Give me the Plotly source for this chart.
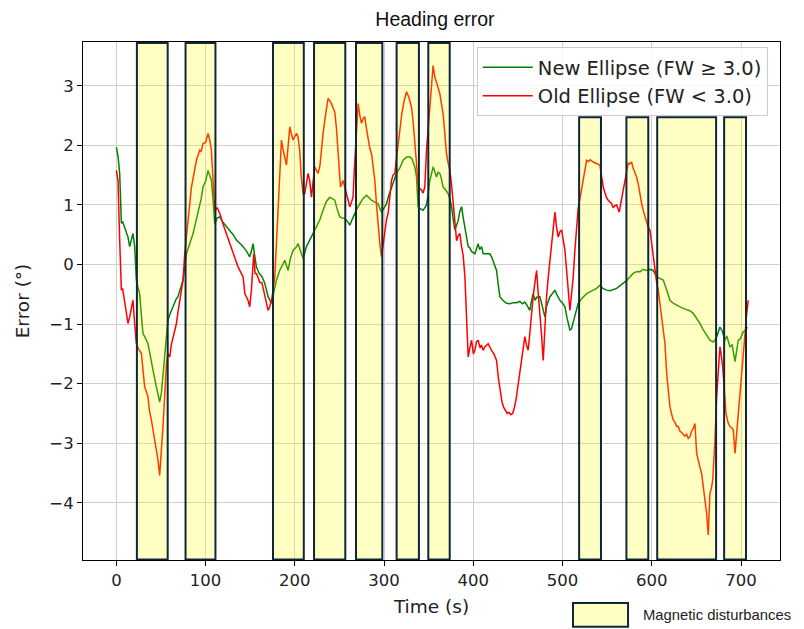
import plotly.graph_objects as go

# ---- data ----
t_new = [0, 2, 3.7, 5.6, 7, 9.3, 11, 13, 14.9, 16.5, 18.6, 20.5, 22.4, 24.2, 26.1, 28, 29.8, 32, 35.4, 37,
         39.2, 42, 44.8, 46.5, 48.5, 50.4, 52, 54.1, 56, 57.8, 59.5, 61.7, 63.5, 65.4, 67, 69, 72, 74.7, 78.5, 82,
         85.9, 89, 93.4, 95, 97.1, 100, 102.7, 104.5, 106.5, 108.5, 110.2, 113, 115.8, 119, 123.3, 128, 131, 134.5, 138, 142,
         146, 149.4, 151, 153.1, 155, 156.9, 160, 163, 166, 168.2, 170, 173.8, 176, 179.4, 183, 186, 188.7, 192.4, 195, 198,
         201, 203.6, 206, 209.2, 213, 216.7, 220, 224.2, 228, 231.6, 235, 239.1, 242, 244.7, 247, 250.3, 253, 256, 259, 261.6,
         264, 267.2, 270, 272.8, 276, 280.3, 283, 285.9, 289, 293.3, 295, 297.1, 300, 302.7, 305, 308.3, 311, 313.9, 317.6, 321.3,
         325, 328.8, 331, 334.4, 336.3, 338.1, 340, 343.7, 345.5, 347.5, 349.5, 351.2, 354.9, 356.5, 358.7, 360.5, 362.4, 364, 366.1, 369,
         371.7, 373.7, 375.6, 377.5, 379.3, 381, 383, 385, 386.8, 388.5, 390.5, 392.4, 394.2, 396, 398, 401.7, 405.4, 407, 409.2, 411,
         414.8, 418.5, 420.4, 423, 426, 428, 429.7, 433, 437.2, 441, 445, 448.4, 452, 455, 457.7, 460, 463.3, 465, 467, 469,
         471, 474.5, 477, 480.2, 482, 485.8, 488, 491.4, 494, 497, 500, 502.6, 505, 508.2, 510, 511.9, 514, 517.5, 521, 526.9,
         530, 534.3, 538, 541.8, 545, 549.3, 553, 556, 560.5, 564, 567.9, 571, 575.4, 579, 582.9, 587, 590, 594.2, 598, 601.6,
         605.4, 609, 612.8, 616, 620.3, 624, 627, 631.5, 636, 640, 643, 646.4, 650, 653.9, 657, 661, 665.1, 668.8, 670.7, 673,
         676.3, 679, 681.9, 684, 687.5, 690, 693.2, 695, 696.9, 699, 702.5, 705, 707]
v_new = [1.97, 1.80, 1.53, 0.69, 0.72, 0.63, 0.55, 0.46, 0.30, 0.40, 0.52, 0.30, -0.26, -0.38, -0.49, -0.85, -1.16, -1.22, -1.33, -1.45,
         -1.66, -1.85, -2.05, -2.15, -2.31, -2.16, -1.90, -1.55, -1.20, -0.93, -0.85, -0.77, -0.70, -0.63, -0.58, -0.54, -0.40, -0.26, 0.18, 0.35,
         0.52, 0.72, 0.97, 1.10, 1.30, 1.40, 1.58, 1.50, 1.41, 1.05, 0.69, 0.78, 0.80, 0.72, 0.63, 0.55, 0.50, 0.41, 0.36, 0.30,
         0.22, 0.13, 0.20, 0.35, 0.15, -0.04, -0.15, -0.20, -0.30, -0.45, -0.54, -0.65, -0.50, -0.26, -0.10, 0.0, 0.07, -0.10, 0.10, 0.24,
         0.28, 0.35, 0.25, 0.10, 0.30, 0.41, 0.50, 0.63, 0.75, 0.91, 1.05, 1.13, 1.10, 1.08, 0.95, 0.80, 0.78, 0.77, 0.72, 0.66,
         0.75, 0.86, 0.95, 1.02, 1.10, 1.16, 1.12, 1.08, 1.05, 1.02, 0.95, 0.88, 0.95, 1.02, 1.15, 1.30, 1.42, 1.53, 1.62, 1.75,
         1.80, 1.81, 1.78, 1.64, 1.47, 0.97, 0.94, 0.91, 0.95, 1.0, 1.2, 1.41, 1.64, 1.55, 1.47, 1.55, 1.53, 1.45, 1.30, 1.25,
         1.19, 1.10, 0.97, 0.75, 0.58, 0.65, 0.74, 0.90, 0.97, 0.80, 0.63, 0.46, 0.30, 0.28, 0.22, 0.18, 0.35, 0.25, 0.30, 0.18,
         0.18, 0.18, 0.13, 0.02, -0.10, -0.35, -0.54, -0.60, -0.65, -0.66, -0.64, -0.64, -0.62, -0.66, -0.63, -0.68, -0.77, -0.62, -0.49, -0.60,
         -0.55, -0.54, -0.70, -0.88, -0.70, -0.54, -0.50, -0.43, -0.52, -0.60, -0.65, -0.71, -0.90, -1.10, -1.08, -0.99, -0.85, -0.65, -0.58, -0.49,
         -0.46, -0.43, -0.40, -0.35, -0.40, -0.43, -0.44, -0.42, -0.40, -0.36, -0.32, -0.28, -0.21, -0.15, -0.12, -0.12, -0.08, -0.10, -0.08, -0.10,
         -0.21, -0.24, -0.26, -0.40, -0.60, -0.65, -0.68, -0.71, -0.74, -0.77, -0.78, -0.82, -0.90, -0.99, -1.08, -1.18, -1.27, -1.30, -1.27, -1.20,
         -1.05, -1.12, -1.27, -1.20, -1.38, -1.35, -1.63, -1.45, -1.27, -1.25, -1.13, -1.10, -1.05]

t_old = [0, 1.8, 3.7, 4.5, 5.6, 7, 9.3, 11, 13, 14.9, 16.5, 18.6, 20.5, 22.4, 25, 28, 30, 31.7, 35.4, 37,
         39.2, 42.9, 44.5, 46.6, 48.5, 50.4, 52.2, 54.1, 56.1, 57.8, 59.8, 61.5, 63.5, 65.5, 67.3, 69, 71, 73, 74.7, 76.6,
         80.3, 82, 84.1, 86, 89.7, 93.4, 95, 97.1, 100, 102.7, 104.5, 106.5, 108.5, 110.2, 113, 115.8, 119, 123.3, 127, 130.7,
         133, 136.3, 139, 142, 144, 147.5, 149.4, 151.3, 153.9, 155.5, 157, 160.7, 163, 166.3, 168, 170, 172, 173.8, 175.5, 177.5,
         179.5, 181.2, 183, 185, 186.5, 188.7, 190.6, 192.5, 194.3, 196, 198, 200, 201.8, 203.5, 205.5, 207, 209.2, 211.1, 213, 214.8,
         216.7, 218.6, 220.5, 222.3, 224.2, 226, 228, 229.8, 231.6, 233.5, 235.5, 237.2, 239, 241, 243, 244.7, 246.5, 248.4, 250, 251.1,
         254, 256, 257.8, 259.5, 261.6, 263.5, 265.2, 267, 269, 270.9, 272.8, 274.7, 276.5, 278.4, 280, 282.1, 284, 285.9, 287.8, 289.6,
         291.5, 293.3, 295.2, 297.1, 299, 300.8, 302.6, 304.5, 306.4, 308.3, 310, 312, 314, 315.8, 317.6, 320, 322.5, 325.1, 327.9, 330.7,
         332.5, 334.4, 336.3, 338.1, 340, 341.9, 343.7, 345.6, 347.5, 349.3, 351.2, 353, 354.9, 356.8, 358.7, 360.5, 362.4, 364.2, 366.1, 368,
         369.9, 371.8, 373.7, 375.5, 377.4, 379.3, 381.2, 383, 384.9, 386.8, 388.6, 390.5, 392.4, 394.2, 396, 398, 400, 401.7, 403.5, 405.4,
         407.5, 409, 411, 413, 416.6, 418.5, 420.4, 423, 426, 428, 430, 432, 434, 436, 438, 440, 442, 444, 446, 448,
         450, 452, 454, 456, 457.7, 459.5, 461.4, 463, 465, 467, 469, 470.9, 472.5, 474.5, 476.5, 478.3, 480, 482, 484, 486,
         487.7, 489.5, 491.4, 493, 495.1, 497, 498.9, 500.8, 502.6, 504.5, 506.3, 508.2, 510, 511.9, 513.8, 515.7, 517.5, 519.4, 521.3, 523,
         524.9, 526.9, 529, 531, 534.3, 537, 539, 541.8, 543.5, 545.5, 547.5, 549.3, 551.1, 553, 555, 556.8, 558.6, 560.5, 562, 563.5,
         565.5, 567.9, 570, 571.8, 573.5, 575.4, 577.3, 579.2, 581, 582.9, 584.8, 586.7, 588.6, 590.5, 592.4, 594.2, 596, 597.9, 599.8, 601.7,
         603.5, 605.4, 607.2, 609.1, 611, 612.8, 614.7, 616.6, 618.5, 620.3, 622, 624, 626, 627.8, 629.6, 631.5, 633.3, 635.2, 637, 639,
         640.8, 642.7, 644.5, 646.4, 648.3, 650.2, 652, 653.9, 655.8, 657.7, 659.5, 661.4, 663.2, 665.1, 666.8, 668.2, 669.5, 670.7, 672.6, 674.5,
         676.3, 678, 679.4, 681.2, 683.1, 685.3, 687.5, 689.4, 691.3, 693.2, 695.7, 697.2, 698.8, 700.6, 702.5, 704.4, 706.3, 708]
v_old = [1.58, 1.41, 0.41, -0.10, -0.43, -0.40, -0.60, -0.80, -0.99, -0.88, -0.75, -0.60, -0.99, -1.33, -1.42, -1.49, -1.80, -2.05, -2.22, -2.45,
         -2.61, -2.95, -3.10, -3.28, -3.54, -3.17, -2.72, -2.22, -1.66, -1.50, -1.55, -1.35, -1.21, -1.10, -0.99, -0.80, -0.60, -0.40, -0.26, 0.18,
         0.80, 1.05, 1.30, 1.45, 1.75, 1.92, 1.90, 2.03, 2.05, 2.20, 2.10, 1.92, 1.40, 0.91, 0.95, 0.86, 0.70, 0.52, 0.35, 0.18,
         0.10, -0.04, -0.12, -0.21, -0.49, -0.60, -0.71, -0.43, 0.18, -0.15, -0.15, -0.30, -0.30, -0.50, -0.60, -0.77, -0.70, -0.60, -0.45, -0.20,
         0.40, 0.97, 1.60, 2.09, 1.95, 1.81, 1.67, 2.00, 2.31, 2.20, 2.09, 2.15, 2.20, 2.15, 1.90, 1.50, 1.19, 1.19, 1.35, 1.53,
         1.40, 1.13, 1.40, 1.64, 1.58, 1.53, 1.65, 1.95, 2.20, 2.42, 2.65, 2.79, 2.75, 2.70, 2.62, 2.56, 2.30, 1.92, 1.55, 1.30,
         1.41, 1.30, 1.19, 1.10, 0.97, 1.05, 1.13, 1.70, 2.35, 2.70, 2.50, 2.37, 2.45, 2.48, 2.30, 2.09, 1.95, 1.86, 1.65, 1.41,
         1.00, 0.63, 0.35, 0.13, 0.35, 0.63, 0.75, 0.86, 1.15, 1.41, 1.50, 1.53, 1.80, 2.05, 2.31, 2.55, 2.75, 2.90, 2.80, 2.64,
         2.40, 2.09, 1.70, 1.30, 1.28, 1.25, 1.20, 1.30, 1.92, 2.30, 2.64, 3.00, 3.34, 3.15, 3.04, 2.95, 2.87, 2.70, 2.53, 2.20,
         1.86, 1.70, 1.58, 1.35, 1.00, 0.70, 0.40, 0.48, 0.52, 0.30, 0.15, -0.20, -0.88, -1.55, -1.40, -1.27, -1.50, -1.44, -1.30, -1.27,
         -1.40, -1.35, -1.44, -1.38, -1.33, -1.40, -1.44, -1.50, -1.61, -1.90, -2.15, -2.30, -2.40, -2.45, -2.50, -2.48, -2.52, -2.50, -2.40, -2.25,
         -2.05, -1.80, -1.65, -1.45, -1.21, -1.35, -1.44, -1.20, -0.85, -0.54, -0.30, -0.10, -0.45, -0.77, -1.20, -1.61, -1.10, -0.54, -0.20, 0.10,
         0.35, 0.60, 0.88, 0.65, 0.46, 0.55, 0.58, 0.40, 0.24, -0.10, -0.50, -0.77, -0.50, -0.21, 0.25, 0.69, 0.95, 1.10, 1.25, 1.45,
         1.60, 1.75, 1.73, 1.76, 1.72, 1.70, 1.68, 1.67, 1.50, 1.30, 1.20, 1.12, 1.08, 1.05, 1.02, 0.95, 0.99, 1.00, 0.95, 0.88,
         1.05, 1.25, 1.40, 1.55, 1.70, 1.69, 1.72, 1.61, 1.55, 1.47, 1.35, 1.15, 1.02, 0.90, 0.80, 0.69, 0.62, 0.58, 0.35, 0.10,
         -0.10, -0.30, -0.43, -0.65, -0.85, -1.05, -1.33, -1.83, -2.15, -2.39, -2.50, -2.61, -2.65, -2.72, -2.72, -2.80, -2.82, -2.86, -2.88, -2.85,
         -2.92, -2.89, -2.80, -2.75, -2.67, -3.17, -3.30, -3.40, -3.51, -3.70, -3.95, -4.18, -4.54, -3.84, -3.75, -3.62, -3.30, -2.95, -2.22, -1.70,
         -1.38, -1.55, -1.72, -2.10, -2.50, -2.65, -2.72, -2.74, -2.78, -3.17, -2.72, -2.40, -2.11, -1.75, -1.38, -1.10, -0.82, -0.60]

# magnetic disturbance intervals (s) and their top edge
dist_start = [23, 77.5, 175.5, 221.5, 268.5, 314, 349.5, 518.5, 571.5, 606, 681]
dist_end = [57.5, 111, 210, 256.5, 298, 339, 373.5, 543, 596, 672, 705.5]
dist_top = [3.72, 3.72, 3.72, 3.72, 3.72, 3.72, 3.72, 2.47, 2.47, 2.47, 2.47]
dist_bottom = -4.95

x_ticks = [0, 100, 200, 300, 400, 500, 600, 700]
y_ticks = [-4, -3, -2, -1, 0, 1, 2, 3]

BORDER = "#0e2738"
FILL = "rgba(255,255,0,0.23)"
TXT = "#222222"
MPL = "DejaVu Sans"

fig = go.Figure()
fig.add_trace(go.Scatter(x=t_new, y=v_new, mode="lines", name="New Ellipse (FW ≥ 3.0)",
                         line=dict(color="green", width=1.5)))
fig.add_trace(go.Scatter(x=t_old, y=v_old, mode="lines", name="Old Ellipse (FW < 3.0)",
                         line=dict(color="red", width=1.5)))

for s, e, top in zip(dist_start, dist_end, dist_top):
    fig.add_shape(type="rect", xref="x", yref="y", x0=s, x1=e, y0=dist_bottom, y1=top,
                  fillcolor=FILL, line=dict(color=BORDER, width=2), layer="above")

# legend patch for the disturbances
fig.add_shape(type="rect", xref="paper", yref="paper", x0=0.703, x1=0.782, y0=-0.129, y1=-0.083,
              fillcolor="#ffffc4", line=dict(color=BORDER, width=2))
fig.add_annotation(xref="paper", yref="paper", x=0.8006, y=-0.106, xanchor="left", yanchor="middle",
                   text="Magnetic disturbances", showarrow=False,
                   font=dict(family="Liberation Sans", size=14.8, color=TXT))

fig.update_layout(
    width=804, height=629,
    margin=dict(l=83, r=24, t=42, b=69),
    paper_bgcolor="white", plot_bgcolor="white",
    title=dict(text="Heading error", x=0.541, xref="container", xanchor="center",
               y=1 - 19 / 629, yref="container", yanchor="middle",
               font=dict(family="Liberation Sans", size=19.5, color="#111111")),
    legend=dict(x=0.565, y=0.99, xanchor="left", yanchor="top", itemwidth=50,
                bgcolor="rgba(255,255,255,0.85)", bordercolor="#cccccc", borderwidth=1,
                font=dict(family=MPL, size=19.5, color=TXT)),
    showlegend=True,
)
fig.update_xaxes(range=[-37.4, 743.6], tickvals=x_ticks, ticks="outside", ticklen=5, tickcolor="black",
                 showline=True, linecolor="black", linewidth=1, mirror=True,
                 showgrid=True, gridcolor="#cfcfcf", gridwidth=1.2, zeroline=False,
                 tickfont=dict(family=MPL, size=16.5, color=TXT),
                 title=dict(text="Time (s)", standoff=11, font=dict(family=MPL, size=18.5, color=TXT)))
fig.update_yaxes(range=[-4.96, 3.735], tickvals=y_ticks, ticks="outside", ticklen=5, tickcolor="black",
                 showline=True, linecolor="black", linewidth=1, mirror=True,
                 showgrid=True, gridcolor="#cfcfcf", gridwidth=1.2, zeroline=False,
                 tickfont=dict(family=MPL, size=16.5, color=TXT),
                 title=dict(text="Error (°)", standoff=14, font=dict(family=MPL, size=18.5, color=TXT)))

fig.write_html("out.html")
